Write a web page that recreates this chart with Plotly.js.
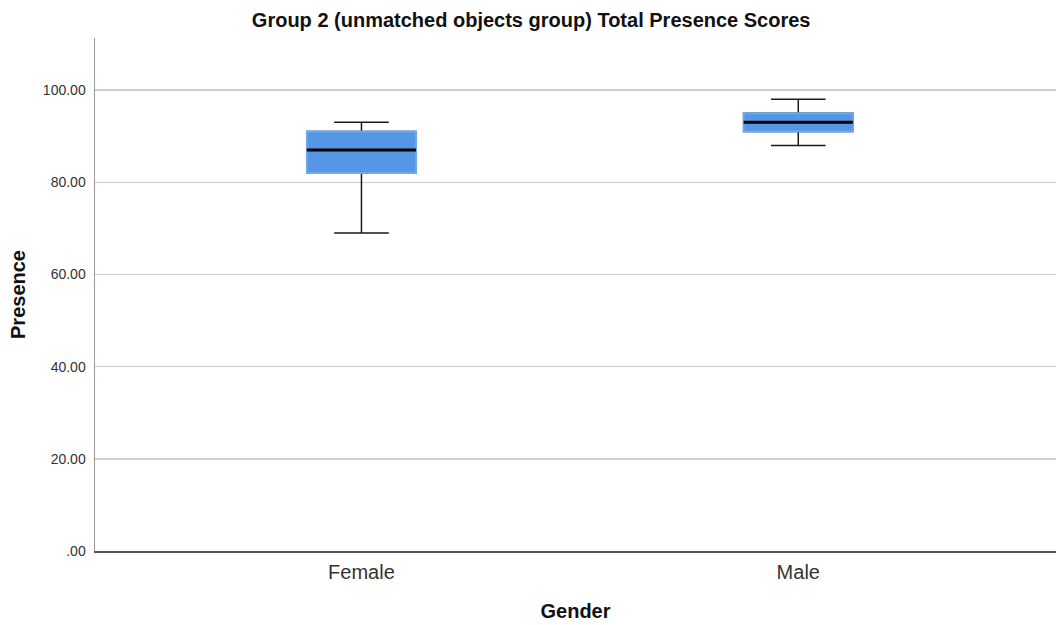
<!DOCTYPE html>
<html>
<head>
<meta charset="utf-8">
<script src="https://cdn.plot.ly/plotly-3.0.1.min.js"></script>
<style>html,body{margin:0;padding:0;background:#fff;}#chart{width:1056px;height:625px;}</style>
</head>
<body>
<div id="chart"></div>
<script>
// Data
const categories = ["Female", "Male"];
const lowerWhisker = [69, 88];
const q1 = [82, 91];
const median = [87, 93];
const q3 = [91, 95];
const upperWhisker = [93, 98];
const yTickVals = [0, 20, 40, 60, 80, 100];
const yTickText = [".00", "20.00", "40.00", "60.00", "80.00", "100.00"];

const boxWidth = 0.25;
const common = {type: "box", x: categories, width: boxWidth, hoverinfo: "skip", showlegend: false, boxpoints: false};

const traces = [
  // black whiskers + caps
  Object.assign({}, common, {
    q1: q1, median: median, q3: q3, lowerfence: lowerWhisker, upperfence: upperWhisker,
    line: {color: "#1a1a1a", width: 1.5}, fillcolor: "rgba(0,0,0,0)", whiskerwidth: 0.5
  }),
  // blue box body
  Object.assign({}, common, {
    q1: q1, median: median, q3: q3, lowerfence: q1, upperfence: q3,
    line: {color: "#6fa8ec", width: 2}, fillcolor: "#5596e6", whiskerwidth: 0
  }),
  // black median line
  Object.assign({}, common, {
    q1: median, median: median, q3: median, lowerfence: median, upperfence: median,
    line: {color: "#000000", width: 3}, fillcolor: "rgba(0,0,0,0)", whiskerwidth: 0
  })
];

const FONT = "Liberation Sans, Arial, sans-serif";
const layout = {
  width: 1056, height: 625,
  margin: {l: 95, r: 0, t: 38, b: 74},
  paper_bgcolor: "#ffffff", plot_bgcolor: "#ffffff",
  boxmode: "overlay",
  title: {text: "Group 2 (unmatched objects group) Total Presence Scores",
    x: 0.503, xref: "container", xanchor: "center", y: 0.968, yanchor: "middle",
    font: {family: FONT, size: 20, color: "#111", weight: "bold"}},
  xaxis: {
    type: "category", range: [-0.61, 1.59],
    showgrid: false, zeroline: false,
    showline: true, linecolor: "#555", linewidth: 1.5,
    ticks: "outside", ticklen: 2, tickcolor: "rgba(0,0,0,0)",
    tickfont: {family: FONT, size: 20, color: "#333"},
    title: {text: "Gender", standoff: 22,
      font: {family: FONT, size: 20, color: "#111", weight: "bold"}}
  },
  yaxis: {
    range: [0, 111.3], tickvals: yTickVals, ticktext: yTickText,
    showgrid: true, gridcolor: "#cfcfcf", gridwidth: 1.5,
    zeroline: false, showline: true, linecolor: "#999", linewidth: 1.5,
    ticks: "outside", ticklen: 5, tickcolor: "rgba(0,0,0,0)",
    tickfont: {family: FONT, size: 14, color: "#333"},
    title: {text: "Presence", standoff: 12,
      font: {family: FONT, size: 20, color: "#111", weight: "bold"}}
  }
};

Plotly.newPlot("chart", traces, layout, {displayModeBar: false, staticPlot: true});
</script>
</body>
</html>
